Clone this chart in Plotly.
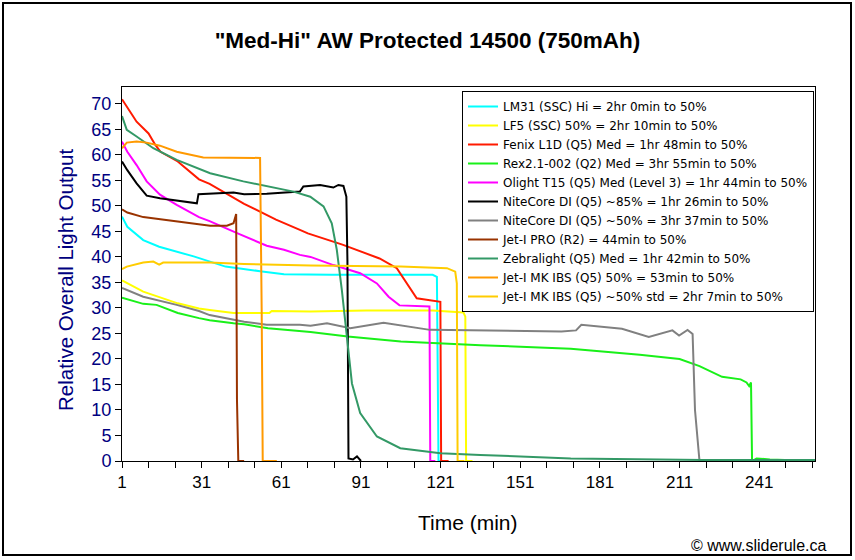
import plotly.graph_objects as go

# ---------------- data (time in minutes, relative output) ----------------
lm31_t = [1, 3, 9, 15, 28, 40, 53, 62, 80, 100, 118, 119.6, 120.2, 123]
lm31_v = [47.9, 45.9, 43.3, 42.0, 40.1, 38.1, 37.2, 36.6, 36.5, 36.5, 36.5, 36.1, 0, 0]

lf5_t = [1, 9, 22, 30, 34, 43, 47, 56.5, 57.4, 72, 93, 118, 129.6, 130.3, 130.6, 133]
lf5_v = [35.4, 33.2, 30.9, 29.9, 29.6, 29.0, 29.0, 29.0, 29.4, 29.3, 29.5, 29.5, 29.1, 28.3, 0, 0]

fenix_t = [1, 6.5, 11, 13.5, 15.5, 22, 30, 34, 47, 53, 59, 68, 71, 84, 98, 104.5, 108.3, 112, 120.9, 121.2, 124]
fenix_v = [70.9, 66.5, 64.2, 62.0, 60.6, 58.7, 55.2, 54.3, 50.4, 48.8, 47.3, 45.3, 44.6, 42.4, 39.7, 37.8, 34.8, 31.9, 31.2, 0, 0]

rex_t = [1, 9, 14, 22, 30, 34, 43, 47, 56, 68, 72, 86, 106, 136, 170, 196, 211, 218.5, 227, 234, 236.2, 237.2, 237.9, 238.3, 240, 245, 251, 262]
rex_v = [32.0, 30.8, 30.6, 29.0, 28.0, 27.6, 27.0, 26.8, 26.0, 25.4, 25.3, 24.4, 23.4, 22.7, 22.0, 20.8, 20.0, 18.6, 16.5, 16.0, 15.4, 14.7, 15.4, 0, 0.5, 0.3, 0.2, 0]

olight_t = [1, 3, 6.5, 10.3, 15.3, 21.6, 30, 34, 45, 55.5, 62, 68, 72, 80.6, 90.7, 97, 101.4, 105.5, 116.8, 117.1, 119]
olight_v = [62.6, 60.6, 58.0, 54.8, 52.2, 50.2, 47.8, 47.0, 44.5, 42.2, 41.4, 40.4, 40.0, 38.4, 36.8, 34.8, 32.2, 30.5, 30.3, 0, 0]

nc85_t = [1, 3, 6.5, 10.3, 15.3, 29.2, 29.8, 43, 47, 55.5, 68, 69.3, 75.6, 80.6, 82.5, 84.4, 85.5, 85.9, 86.3, 88, 89.5, 91]
nc85_v = [58.7, 57.0, 54.4, 52.0, 51.5, 50.5, 52.3, 52.6, 52.3, 52.4, 52.8, 53.8, 54.1, 53.6, 54.1, 53.9, 51.8, 39.4, 0.5, 0.3, 0.9, 0]

nc50_t = [1, 9, 21.6, 30, 34, 43, 47, 55.5, 68, 72, 78.2, 87, 99.5, 117, 132, 166.5, 172, 174, 189.3, 199.4, 208.3, 210.8, 214, 215.9, 216.8, 218.5, 262]
nc50_v = [33.9, 32.2, 30.6, 29.4, 28.6, 27.8, 27.3, 26.7, 26.7, 26.5, 27.0, 26.0, 27.1, 25.7, 25.6, 25.4, 25.6, 26.7, 25.9, 24.3, 25.6, 24.6, 25.7, 24.9, 10, 0, 0]

jetpro_t = [1, 3, 9, 21.6, 34.2, 40.5, 43, 44, 44.2, 44.3, 44.8, 47]
jetpro_v = [49.3, 48.7, 47.8, 46.9, 46.1, 46.1, 46.6, 48.4, 30, 12, 0, 0]

zebra_t = [1, 2.8, 6.5, 12.8, 21.6, 30.4, 34.2, 46.7, 53, 59.3, 65.6, 71.9, 76.9, 80, 81.9, 83.8, 85.7, 87.6, 90.7, 97, 105.8, 120.9, 135.9, 170, 220, 262]
zebra_v = [67.6, 64.9, 63.6, 61.3, 59.0, 57.2, 56.4, 54.8, 54.1, 53.5, 52.8, 51.8, 49.9, 46.6, 41.4, 33.5, 24.4, 15.2, 9.4, 4.8, 2.5, 1.5, 1.2, 0.5, 0.2, 0.2]

mk50_t = [1, 2.8, 6.5, 10.3, 15.3, 21.6, 31.6, 40.5, 53, 53.6, 53.7, 54.0, 59.3]
mk50_v = [61.3, 62.4, 62.6, 62.4, 61.8, 60.6, 59.5, 59.4, 59.4, 30, 14.9, 0, 0]

mkstd_t = [1, 2.8, 9, 12.8, 15, 16.5, 34, 47, 72, 106, 123.4, 126.5, 127.1, 127.4, 130]
mkstd_v = [37.6, 38.1, 38.9, 39.1, 38.5, 38.9, 38.9, 38.6, 38.3, 38.1, 37.8, 37.1, 34.8, 0, 0]

series_names = [
    "LM31 (SSC) Hi = 2hr 0min to 50%",
    "LF5 (SSC) 50% = 2hr 10min to 50%",
    "Fenix L1D (Q5) Med = 1hr 48min to 50%",
    "Rex2.1-002 (Q2) Med = 3hr 55min to 50%",
    "Olight T15 (Q5) Med (Level 3) = 1hr 44min to 50%",
    "NiteCore DI (Q5) ~85% = 1hr 26min to 50%",
    "NiteCore DI (Q5) ~50% = 3hr 37min to 50%",
    "Jet-I PRO (R2) = 44min to 50%",
    "Zebralight (Q5) Med = 1hr 42min to 50%",
    "Jet-I MK IBS (Q5) 50% = 53min to 50%",
    "Jet-I MK IBS (Q5) ~50% std = 2hr 7min to 50%",
]
series_t = [lm31_t, lf5_t, fenix_t, rex_t, olight_t, nc85_t, nc50_t, jetpro_t, zebra_t, mk50_t, mkstd_t]
series_v = [lm31_v, lf5_v, fenix_v, rex_v, olight_v, nc85_v, nc50_v, jetpro_v, zebra_v, mk50_v, mkstd_v]
series_colors = ["#00FFFF", "#FFFF00", "#FF1A00", "#19F019", "#FF00FF", "#000000",
                 "#808080", "#993300", "#339966", "#FF9900", "#FFCC00"]

x_tickvals = list(range(1, 262, 10))
x_ticktext = [str(v) if (v - 1) % 30 == 0 else "" for v in x_tickvals]
y_tickvals = list(range(0, 71, 5))

FONT = "Liberation Sans, Arial, sans-serif"
NAVY = "#000080"

fig = go.Figure()
for name, t, v, c in zip(series_names, series_t, series_v, series_colors):
    fig.add_trace(go.Scatter(x=t, y=v, mode="lines", name=name,
                             line=dict(color=c, width=2)))

fig.update_layout(
    width=855, height=560,
    margin=dict(l=122, r=40, t=87, b=99),
    paper_bgcolor="white", plot_bgcolor="white",
    font=dict(family=FONT, color="black"),
    title=dict(text='<b>"Med-Hi" AW Protected 14500 (750mAh)</b>',
               x=0.5, xanchor="center", y=1 - 40 / 560, yanchor="middle",
               font=dict(size=22.5, family=FONT, color="black")),
    showlegend=True,
    legend=dict(x=(462 - 122) / 693, y=(461 - 91) / 374, xanchor="left", yanchor="top",
                bgcolor="white", bordercolor="black", borderwidth=1,
                font=dict(size=12, family="DejaVu Sans, sans-serif", color="black"),
                itemwidth=30, tracegroupgap=0),
)

fig.update_xaxes(range=[1, 262], tickmode="array", tickvals=x_tickvals, ticktext=x_ticktext,
                 ticks="outside", ticklen=6, tickcolor="black", showgrid=False, zeroline=False,
                 showline=True, linecolor="black", linewidth=1, mirror=True,
                 tickfont=dict(size=17, family=FONT, color="black"))
fig.update_yaxes(range=[0, 73.3], tickmode="array", tickvals=y_tickvals,
                 ticks="outside", ticklen=6, tickcolor="black", showgrid=False, zeroline=False,
                 showline=True, linecolor="black", linewidth=1, mirror=True,
                 tickfont=dict(size=18, family=FONT, color=NAVY))

fig.add_annotation(text="Relative Overall Light Output", xref="paper", yref="paper",
                   x=(65 - 122) / 693, y=(461 - 280) / 374, textangle=-90, showarrow=False,
                   xanchor="center", yanchor="middle",
                   font=dict(size=20.5, family=FONT, color=NAVY))
fig.add_annotation(text="Time (min)", xref="paper", yref="paper",
                   x=(468 - 122) / 693, y=(461 - 522) / 374, showarrow=False,
                   xanchor="center", yanchor="middle",
                   font=dict(size=21, family=FONT, color="black"))
fig.add_annotation(text="© www.sliderule.ca", xref="paper", yref="paper",
                   x=(828 - 122) / 693, y=(461 - 545) / 374, showarrow=False,
                   xanchor="right", yanchor="middle",
                   font=dict(size=16, family=FONT, color="black"))

fig.add_shape(type="rect", xref="paper", yref="paper",
              x0=(3 - 122) / 693, x1=(851 - 122) / 693,
              y0=(461 - 555) / 374, y1=(461 - 3) / 374,
              line=dict(color="black", width=2), fillcolor="rgba(0,0,0,0)", layer="below")

fig.write_html("out.html", config={"displayModeBar": False},
               post_script="document.body.style.margin='0px';document.body.style.overflow='hidden';")
